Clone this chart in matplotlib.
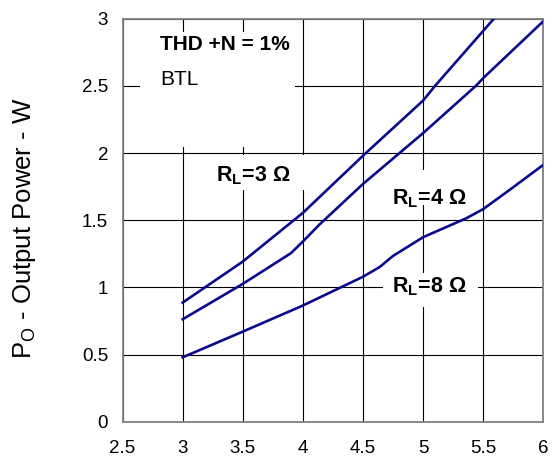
import matplotlib
matplotlib.use("Agg")
import matplotlib.pyplot as plt
from matplotlib.patches import Rectangle

plt.rcParams['font.family'] = ['Liberation Sans', 'DejaVu Sans']
plt.rcParams['mathtext.fontset'] = 'custom'
plt.rcParams['mathtext.rm'] = 'Liberation Sans'
plt.rcParams['mathtext.bf'] = 'Liberation Sans:bold'

# Supply voltage (V) vs output power (W), THD+N = 1 %, BTL
vdd_3 = [3.0, 3.5, 4.0, 4.5, 5.0, 5.1, 5.59]
po_3 = [0.888, 1.193, 1.555, 1.98, 2.39, 2.5, 3.0]

vdd_4 = [3.0, 3.5, 3.9, 4.0, 4.14, 4.5, 5.0, 5.44, 5.5, 6.0]
po_4 = [0.764, 1.027, 1.255, 1.342, 1.47, 1.77, 2.148, 2.5, 2.557, 2.98]

vdd_8 = [3.0, 3.5, 4.0, 4.5, 4.64, 4.75, 5.0, 5.36, 5.5, 5.72, 6.0]
po_8 = [0.481, 0.672, 0.866, 1.08, 1.153, 1.235, 1.374, 1.515, 1.583, 1.726, 1.912]

x_ticks = [2.5, 3, 3.5, 4, 4.5, 5, 5.5, 6]
x_tick_labels = ['2.5', '3', '3.5', '4', '4.5', '5', '5.5', '6']
y_ticks = [0, 0.5, 1, 1.5, 2, 2.5, 3]
y_tick_labels = ['0', '0.5', '1', '1.5', '2', '2.5', '3']

line_color = '#0a0a8c'

fig = plt.figure(figsize=(5.53, 4.57), dpi=100)
ax = fig.add_axes([0.2217, 0.0766, 0.7608, 0.8829])

for xs, ys in [(vdd_3, po_3), (vdd_4, po_4), (vdd_8, po_8)]:
    ax.plot(xs, ys, color=line_color, lw=1.9, zorder=3)

ax.set_xlim(2.5, 6)
ax.set_ylim(0, 3)
ax.set_xticks(x_ticks)
ax.set_xticklabels(x_tick_labels)
ax.set_yticks(y_ticks)
ax.set_yticklabels(y_tick_labels)
ax.tick_params(axis='both', length=0, labelsize=13.5)
ax.tick_params(axis='x', pad=13)
ax.tick_params(axis='y', pad=10.5)
ax.grid(True, color='black', lw=0.8)
for sp in ax.spines.values():
    sp.set_color('#808080')
    sp.set_linewidth(1.3)

ax.set_ylabel(r'P$_\mathregular{O}$ - Output Power - W', fontsize=18.5)
ax.yaxis.set_label_coords(-0.2, 0.48)

# white boxes behind annotations (they break the grid)
boxes = [(2.645, 2.046, 1.29, 0.854),
         (3.187, 1.726, 0.89, 0.261),
         (4.685, 1.615, 0.70, 0.26),
         (4.668, 0.856, 0.79, 0.253)]
for bx, by, bw, bh in boxes:
    ax.add_patch(Rectangle((bx, by), bw, bh, facecolor='white',
                           edgecolor='none', zorder=2))

ax.text(2.811, 2.763, 'THD +N = 1%', fontsize=15, fontweight='bold',
        va='baseline', zorder=4)
ax.text(2.811, 2.507, 'BTL', fontsize=15, va='baseline', zorder=4)
ax.text(3.279, 1.788, r'R$_\mathbf{L}$=3 Ω', fontsize=15.5, fontweight='bold',
        va='baseline', zorder=4)
ax.text(4.741, 1.615, r'R$_\mathbf{L}$=4 Ω', fontsize=15.5, fontweight='bold',
        va='baseline', zorder=4)
ax.text(4.741, 0.962, r'R$_\mathbf{L}$=8 Ω', fontsize=15.5, fontweight='bold',
        va='baseline', zorder=4)

fig.savefig('out.png', dpi=100)
